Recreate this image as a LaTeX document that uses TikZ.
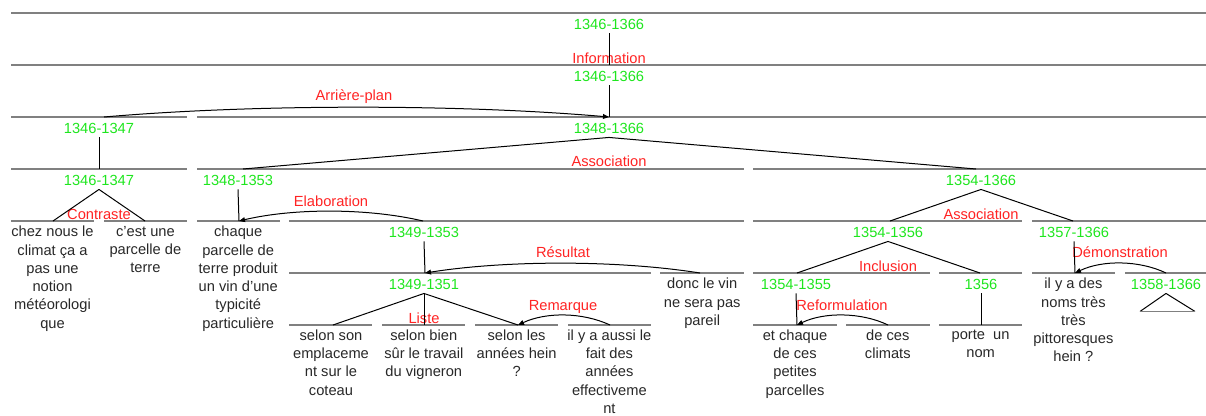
\documentclass[tikz,border=0pt]{standalone}
\usepackage{fontspec}
\setmainfont{Liberation Sans}
\usepackage{tikz}
\usetikzlibrary{arrows.meta}

\definecolor{spangray}{RGB}{128,128,128}
\definecolor{idgreen}{RGB}{30,230,30}
\definecolor{relred}{RGB}{255,35,35}
\definecolor{segtext}{RGB}{40,40,40}

\begin{document}
\begin{tikzpicture}[
        x=0.75pt, y=-0.75pt,
        font=\fontsize{11}{13.7}\selectfont,
        spanline/.style={draw=spangray, line width=1.5pt},
        idlabel/.style={text=idgreen, anchor=base, inner sep=2.5pt},
        rellabel/.style={text=relred, anchor=base, inner sep=0pt},
        segment/.style={text=segtext, align=center, anchor=north, inner sep=0pt},
        edge/.style={draw=black, line width=0.75pt},
        relarrow/.style={edge, -{Triangle[length=4.5pt, width=3.6pt]}}
    ]
    \useasboundingbox (0,0) rectangle (1206,415);

    % Spannlinien
    \draw[spanline] (11,13) -- (1206,13);
    \draw[spanline] (11,65) -- (1206,65);
    \draw[spanline] (11,117) -- (187,117);
    \draw[spanline] (197,117) -- (1206,117);
    \draw[spanline] (11,169) -- (187,169);
    \draw[spanline] (197,169) -- (744,169);
    \draw[spanline] (753,169) -- (1206,169);
    \draw[spanline] (11,221) -- (94,221);
    \draw[spanline] (104,221) -- (187,221);
    \draw[spanline] (197,221) -- (280,221);
    \draw[spanline] (289,221) -- (744,221);
    \draw[spanline] (753,221) -- (1022,221);
    \draw[spanline] (1032,221) -- (1206,221);
    \draw[spanline] (289,273) -- (651,273);
    \draw[spanline] (660,273) -- (744,273);
    \draw[spanline] (753,273) -- (930,273);
    \draw[spanline] (939,273) -- (1022,273);
    \draw[spanline] (1032,273) -- (1115,273);
    \draw[spanline] (1125,273) -- (1206,273);
    \draw[spanline] (289,325) -- (372,325);
    \draw[spanline] (382,325) -- (465,325);
    \draw[spanline] (475,325) -- (558,325);
    \draw[spanline] (568,325) -- (651,325);
    \draw[spanline] (753,325) -- (837,325);
    \draw[spanline] (846,325) -- (930,325);
    \draw[spanline] (939,325) -- (1022,325);

    % Anschlusspunkte
    \coordinate (t4666b) at (609,65);
    \coordinate (t4866) at (609,117);
    \coordinate (t4647a) at (104,117);
    \coordinate (t4647b) at (99,169);
    \coordinate (t4853) at (243,169);
    \coordinate (t5466) at (976,169);
    \coordinate (t4953) at (423,221);
    \coordinate (t5456) at (890,221);
    \coordinate (t5766) at (1073,221);
    \coordinate (t4951) at (425,273);
    \coordinate (t5455) at (797,273);
    \coordinate (t56) at (980,273);
    \coordinate (t5866) at (1166,273);
    \coordinate (ts46) at (53,221);
    \coordinate (ts47) at (145,221);
    \coordinate (ts48) at (239,221);
    \coordinate (ts49) at (333,325);
    \coordinate (ts50) at (424,325);
    \coordinate (ts51) at (518,325);
    \coordinate (ts52) at (610,325);
    \coordinate (ts53) at (700,273);
    \coordinate (ts54) at (797,325);
    \coordinate (ts55) at (888,325);
    \coordinate (ts56) at (981,325);
    \coordinate (ts57) at (1075,273);

    % Knoten
    \node[idlabel] (n4666a) at (609,29.7) {1346-1366};
    \node[idlabel] (n4666b) at (609,81.7) {1346-1366};
    \node[idlabel] (n4647a) at (99,133.7) {1346-1347};
    \node[idlabel] (n4866) at (609,133.7) {1348-1366};
    \node[idlabel] (n4647b) at (99,185.7) {1346-1347};
    \node[idlabel] (n4853) at (238,185.7) {1348-1353};
    \node[idlabel] (n5466) at (981,185.7) {1354-1366};
    \node[idlabel] (n4953) at (424,237.7) {1349-1353};
    \node[idlabel] (n5456) at (888,237.7) {1354-1356};
    \node[idlabel] (n5766) at (1074,237.7) {1357-1366};
    \node[idlabel] (n4951) at (424,289.7) {1349-1351};
    \node[idlabel] (n5455) at (796,289.7) {1354-1355};
    \node[idlabel] (n56) at (981,289.7) {1356};
    \node[idlabel] (n5866) at (1166,289.7) {1358-1366};

    % Segmente
    \node[segment] (s46) at (52.5,226) {chez nous le\\climat ça a\\pas une\\notion\\météorologi\\que};
    \node[segment] (s47) at (145.4,226) {c’est une\\parcelle de\\terre};
    \node[segment] (s48) at (238.2,226) {chaque\\parcelle de\\terre produit\\un vin d’une\\typicité\\particulière};
    \node[segment] (s49) at (331,329.5) {selon son\\emplaceme\\nt sur le\\coteau};
    \node[segment] (s50) at (423.8,329.5) {selon bien\\sûr le travail\\du vigneron};
    \node[segment] (s51) at (516.6,329.5) {selon les\\années hein\\?};
    \node[segment] (s52) at (609.4,329.5) {il y a aussi le\\fait des\\années\\effectiveme\\nt};
    \node[segment] (s53) at (702.2,278) {donc le vin\\ne sera pas\\pareil};
    \node[segment] (s54) at (795,329.5) {et chaque\\de ces\\petites\\parcelles};
    \node[segment] (s55) at (887.8,329.5) {de ces\\climats};
    \node[segment] (s56) at (980.6,329.5) {porte\ \ un\\nom};
    \node[segment] (s57) at (1073.4,278) {il y a des\\noms très\\très\\pittoresques\\hein ?};

    % Relationen
    \node[rellabel] (rinformation) at (609,63) {Information};
    \node[rellabel] (rarriere) at (354,100) {Arrière-plan};
    \node[rellabel] (rassoca) at (609,166.5) {Association};
    \node[rellabel] (rcontraste) at (99,219) {Contraste};
    \node[rellabel] (relab) at (331,206) {Elaboration};
    \node[rellabel] (rassocb) at (981,219) {Association};
    \node[rellabel] (rresultat) at (563,257.5) {Résultat};
    \node[rellabel] (rinclusion) at (888,271) {Inclusion};
    \node[rellabel] (rdemo) at (1120,257.5) {Démonstration};
    \node[rellabel] (rliste) at (424,323) {Liste};
    \node[rellabel] (rremarque) at (563,310) {Remarque};
    \node[rellabel] (rreform) at (842,310) {Reformulation};

    % Kanten zwischen Knoten
    \draw[edge] (n4666a.south) -- (t4666b);
    \draw[edge] (n4666b.south) -- (t4866);
    \draw[edge] (n4647a.south) -- (t4647b);
    \draw[edge] (n4647b.south) -- (ts46);
    \draw[edge] (n4647b.south) -- (ts47);
    \draw[edge] (n4866.south) -- (t4853);
    \draw[edge] (n4866.south) -- (t5466);
    \draw[edge] (n4853.south) -- (ts48);
    \draw[edge] (n4953.south) -- (t4951);
    \draw[edge] (n4951.south) -- (ts49);
    \draw[edge] (n4951.south) -- (ts50);
    \draw[edge] (n4951.south) -- (ts51);
    \draw[edge] (n5466.south) -- (t5456);
    \draw[edge] (n5466.south) -- (t5766);
    \draw[edge] (n5456.south) -- (t5455);
    \draw[edge] (n5456.south) -- (t56);
    \draw[edge] (n5766.south) -- (ts57);
    \draw[edge] (n5455.south) -- (ts54);
    \draw[edge] (n56.south) -- (ts56);
    \draw[edge] (n5866.south) -- ++(-26,18) coordinate (c5866l);
    \draw[edge] (n5866.south) -- ++(29,18) coordinate (c5866r);
    \draw[draw=spangray, line width=0.75pt] (c5866l) -- (c5866r);

    % Pfeile
    \draw[relarrow] (t4647a) .. controls +(150,-13) and +(-150,-13) .. (t4866);
    \draw[relarrow] (t4953) .. controls +(-55,-13) and +(55,-13) .. (ts48);
    \draw[relarrow] (ts53) .. controls +(-82,-13) and +(82,-13) .. (t4951);
    \draw[relarrow] (ts52) .. controls +(-28,-13) and +(28,-13) .. (ts51);
    \draw[relarrow] (t5866) .. controls +(-27,-13) and +(27,-13) .. (ts57);
    \draw[relarrow] (ts55) .. controls +(-27,-13) and +(27,-13) .. (ts54);

\end{tikzpicture}
\end{document}
